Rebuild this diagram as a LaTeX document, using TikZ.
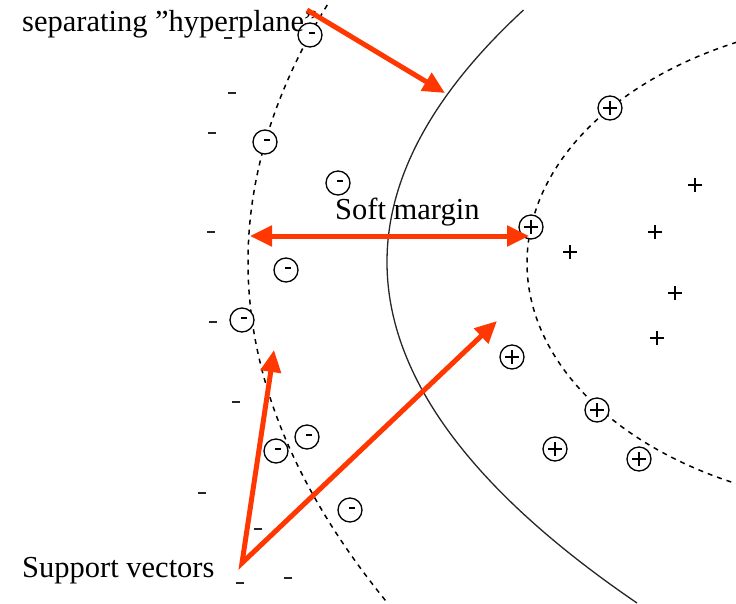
\documentclass[tikz,border=0pt]{standalone}
\usepackage{fontspec}
\setmainfont{Liberation Serif}
\usetikzlibrary{arrows.meta}
\definecolor{arrowred}{RGB}{255,55,0}
\tikzset{
  curveline/.style={line width=1.3pt, black!85},
  margindash/.style={line width=1.5pt, dash pattern=on 5pt off 5pt},
  cminus/.style={circle, draw, line width=1.3pt, minimum size=24pt, inner sep=0pt,
    path picture={\draw[line width=1.6pt] ([xshift=-1pt,yshift=2pt]path picture bounding box.center) -- ++(6pt,0pt);}},
  cplus/.style={circle, draw, line width=1.3pt, minimum size=24pt, inner sep=0pt,
    path picture={\draw[line width=1.5pt] ([xshift=-7pt]path picture bounding box.center) -- ++(14pt,0pt)
      ([yshift=-7pt]path picture bounding box.center) -- ++(0pt,14pt);}},
  pplus/.style={circle, minimum size=16pt, inner sep=0pt,
    path picture={\draw[line width=1.5pt] ([xshift=-7pt]path picture bounding box.center) -- ++(14pt,0pt)
      ([yshift=-7pt]path picture bounding box.center) -- ++(0pt,14pt);}},
  pminus/.style={rectangle, fill=black!85, minimum width=8pt, minimum height=2.5pt, inner sep=0pt},
  redarrow/.style={draw=arrowred, line width=5pt, -{Triangle[length=22pt,width=20pt]}},
  redarrows/.style={draw=arrowred, line width=5pt, {Triangle[length=22pt,width=20pt]}-{Triangle[length=22pt,width=20pt]}},
  label/.style={font=\fontsize{30.5}{34}\selectfont, anchor=base west, inner sep=0pt}
}
\begin{document}
\begin{tikzpicture}[x=1pt,y=-1pt]
\useasboundingbox (0,0) rectangle (736,603);
\fill[white] (0,0) rectangle (736,603);

\begin{scope}
\clip (0,0) rectangle (736,603);
% separating hyperplane (solid)
\draw[curveline] plot[domain=10:603, samples=120, smooth] ({387+21.5*((\x-262)/100)^2}, \x);

% negative margin (dashed)
\draw[margindash] plot[domain=5:603, samples=120, smooth] ({248+12*((\x-262)/100)^2}, \x);

% positive margin (dashed)
\draw[margindash] plot[domain=-66:66, samples=120, smooth] ({897-370*cos(\x)}, {263+245*sin(\x)});
\end{scope}

% minus points
\foreach \p/\n in {(228,38)/m1,(232,93)/m2,(212,133)/m3,(211,232)/m4,(213,322)/m5,
  (236,402)/m6,(202,493)/m7,(258,529)/m8,(240,583)/m9,(288,578)/m10}
  \node[pminus] (\n) at \p {};

% circled minus
\foreach \p/\n in {(310,35)/cm1,(265,142)/cm2,(338,183)/cm3,(286,270)/cm4,(242,320)/cm5,
  (307,437)/cm6,(276,451)/cm7,(350,510)/cm8}
  \node[cminus, fill=white] (\n) at \p {};

% plus points
\foreach \p/\n in {(695,185)/p1,(655,232)/p2,(570,252)/p3,(675,293)/p4,(657,338)/p5}
  \node[pplus] (\n) at \p {};

% circled plus
\foreach \p/\n in {(610,108)/cp1,(531,227)/cp2,(512,357)/cp3,(597,410)/cp4,(555,449)/cp5,(639,459)/cp6}
  \node[cplus, fill=white] (\n) at \p {};

% labels
\node[label] (hyp) at (22,31) {separating ”hyperplane”};
\node[label] (soft) at (335,219) {Soft margin};
\node[label] (sv) at (22,577) {Support vectors};

% arrow anchors
\coordinate (hypstart) at (307,10);
\coordinate (hyptip) at (445,93);
\coordinate (mleft) at (250,236);
\coordinate (mright) at (529,236);
\coordinate (svbase) at (242,563);
\coordinate (svtip1) at (274,350);
\coordinate (svtip2) at (497,321);

% red arrows
\draw[redarrow] (hypstart) -- (hyptip);
\draw[redarrows] (mleft) -- (mright);
\draw[redarrows, line join=miter] (svtip2) -- (svbase) -- (svtip1);
\end{tikzpicture}
\end{document}
